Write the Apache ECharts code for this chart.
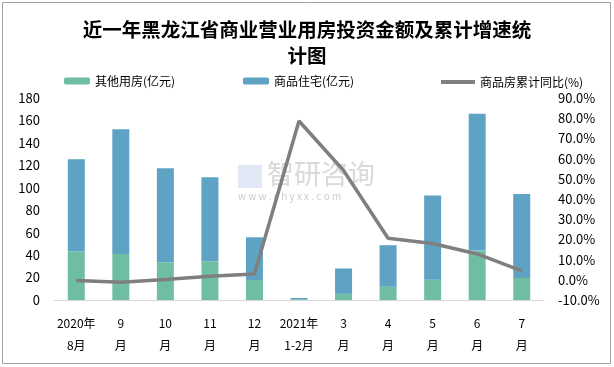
<!DOCTYPE html>
<html><head><meta charset="utf-8">
<script src="https://cdn.jsdelivr.net/npm/echarts@6/dist/echarts.min.js"></script>
<style>html,body{margin:0;padding:0;background:#fff}#c{width:614px;height:367px}</style>
</head><body><div id="c"></div>
<script>
const categories = ['2020年\n8月','9\n月','10\n月','11\n月','12\n月','2021年\n1-2月','3\n月','4\n月','5\n月','6\n月','7\n月'];
const otherHousing = [43.4, 41.0, 33.6, 34.5, 17.8, 0.3, 5.5, 11.8, 18.1, 44.0, 19.6];
const residential = [82.0, 111.1, 83.8, 74.8, 38.1, 1.5, 22.6, 37.0, 75.0, 121.9, 74.9];
const growthPct = [-0.3, -1.2, 0.2, 1.7, 2.9, 78.6, 54.1, 20.6, 18.0, 12.8, 4.4];
const leftTicks = {min: 0, max: 180, interval: 20};
const rightTicks = {min: -10, max: 90, interval: 10};

const chart = echarts.init(document.getElementById('c'), null, {renderer: 'canvas'});
const font = '"Noto Sans CJK SC", "Noto Sans", sans-serif';
chart.setOption({
  backgroundColor: '#fff',
  animation: false,
  title: {
    text: '近一年黑龙江省商业营业用房投资金额及累计增速统\n计图',
    left: 'center', top: 12,
    textStyle: {fontFamily: font, fontSize: 19.5, fontWeight: 'bold', color: '#000', lineHeight: 26}
  },
  legend: [
    {data: ['其他用房(亿元)'], left: 59, top: 70, itemWidth: 26, itemHeight: 7, itemGap: 4,
     textStyle: {fontFamily: font, fontSize: 12, color: '#000'}},
    {data: ['商品住宅(亿元)'], left: 238, top: 70, itemWidth: 26, itemHeight: 7, itemGap: 4,
     textStyle: {fontFamily: font, fontSize: 12, color: '#000'}},
    {data: [{name: '商品房累计同比(%)', icon: 'rect'}], left: 436, top: 71, itemWidth: 34, itemHeight: 4, itemGap: 5,
     textStyle: {fontFamily: font, fontSize: 12, color: '#000'}}
  ],
  grid: {left: 54, right: 70, top: 98, bottom: 67},
  graphic: [
    {type: 'rect', shape: {x: 2.5, y: 2.5, width: 608, height: 361}, style: {fill: 'none', stroke: '#a0a0a0', lineWidth: 1}, silent: true},
    {type: 'rect', shape: {x: 238, y: 165, width: 24, height: 23}, style: {fill: 'rgba(170,190,225,0.35)'}, z: -1, silent: true},
    {type: 'text', left: 267, top: 160, style: {text: '智研咨询', fontFamily: font, fontSize: 27, fill: 'rgba(170,170,170,0.45)'}, z: -1, silent: true},
    {type: 'text', left: 238, top: 191, style: {text: 'w w w . c h y x x . c o m', fontFamily: font, fontSize: 10, fill: 'rgba(170,170,170,0.6)'}, z: -1, silent: true}
  ],
  xAxis: {
    type: 'category', data: categories,
    axisLine: {lineStyle: {color: '#d9d9d9', width: 1}},
    axisTick: {show: false},
    axisLabel: {interval: 0, fontFamily: font, fontSize: 12, color: '#000', lineHeight: 22, margin: 12}
  },
  yAxis: [
    {type: 'value', min: leftTicks.min, max: leftTicks.max, interval: leftTicks.interval,
     axisLine: {show: false}, axisTick: {show: false}, splitLine: {show: false},
     axisLabel: {fontFamily: font, fontSize: 13, color: '#000', margin: 14}},
    {type: 'value', min: rightTicks.min, max: rightTicks.max, interval: rightTicks.interval,
     axisLine: {show: false}, axisTick: {show: false}, splitLine: {show: false},
     axisLabel: {fontFamily: font, fontSize: 13, color: '#000', margin: 14,
       formatter: v => v.toFixed(1) + '%'}}
  ],
  series: [
    {name: '其他用房(亿元)', type: 'bar', stack: 's', data: otherHousing, barWidth: 17,
     itemStyle: {color: '#70bea1'}},
    {name: '商品住宅(亿元)', type: 'bar', stack: 's', data: residential, barWidth: 17,
     itemStyle: {color: '#5ea3c4'}},
    {name: '商品房累计同比(%)', type: 'line', yAxisIndex: 1, data: growthPct,
     symbol: 'none', lineStyle: {color: '#7f7f7f', width: 3.5}, itemStyle: {color: '#7f7f7f'}, z: 5}
  ]
});
</script></body></html>
